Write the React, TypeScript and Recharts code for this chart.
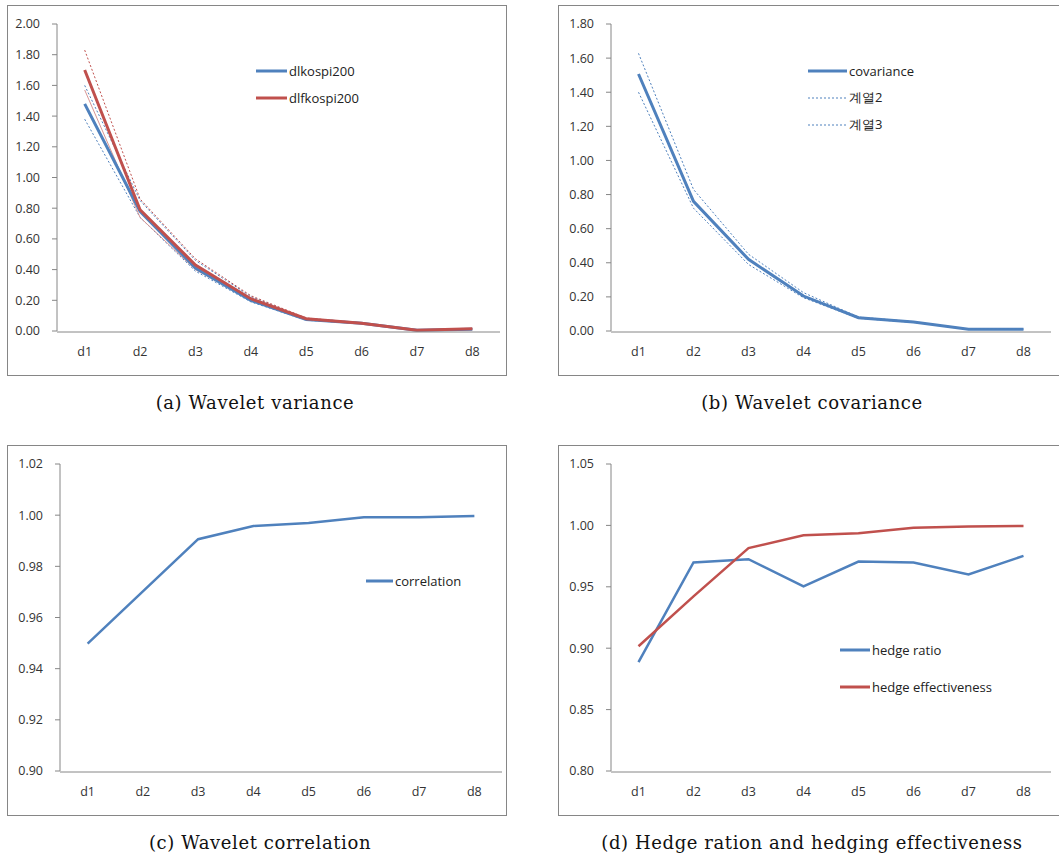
import { LineChart, Line, XAxis, YAxis, Legend } from "recharts";

const levels = ["d1", "d2", "d3", "d4", "d5", "d6", "d7", "d8"];
const boundaryTicks = [0, 1, 2, 3, 4, 5, 6, 7, 8];

// (a) wavelet variance + confidence bands
const dlkospi200 = [1.48, 0.78, 0.41, 0.2, 0.075, 0.05, 0.005, 0.012];
const dlkospi200Upper = [1.6, 0.85, 0.46, 0.225, 0.08, 0.053, 0.006, 0.013];
const dlkospi200Lower = [1.38, 0.74, 0.39, 0.19, 0.07, 0.048, 0.004, 0.011];
const dlfkospi200 = [1.7, 0.79, 0.43, 0.21, 0.08, 0.05, 0.005, 0.014];
const dlfkospi200Upper = [1.83, 0.86, 0.47, 0.23, 0.085, 0.053, 0.006, 0.015];
const dlfkospi200Lower = [1.57, 0.74, 0.4, 0.2, 0.075, 0.047, 0.004, 0.013];
const varianceTicks = [0, 0.2, 0.4, 0.6, 0.8, 1, 1.2, 1.4, 1.6, 1.8, 2];

// (b) wavelet covariance
const covariance = [1.507, 0.76, 0.42, 0.205, 0.078, 0.053, 0.01, 0.01];
const series2 = [1.628, 0.83, 0.45, 0.225, 0.082, 0.055, 0.011, 0.011];
const series3 = [1.4, 0.72, 0.39, 0.195, 0.074, 0.05, 0.009, 0.009];
const covarianceTicks = [0, 0.2, 0.4, 0.6, 0.8, 1, 1.2, 1.4, 1.6, 1.8];

// (c) wavelet correlation
const correlation = [0.9498, 0.9702, 0.9906, 0.9958, 0.9969, 0.9992, 0.9992, 0.9997];
const correlationTicks = [0.9, 0.92, 0.94, 0.96, 0.98, 1, 1.02];

// (d) hedge ratio / effectiveness
const hedgeRatio = [0.8886, 0.9698, 0.9725, 0.9503, 0.9706, 0.9698, 0.9601, 0.9752];
const hedgeEffectiveness = [0.9016, 0.9422, 0.9815, 0.992, 0.9937, 0.998, 0.9991, 0.9996];
const hedgeTicks = [0.8, 0.85, 0.9, 0.95, 1, 1.05];

const BLUE = "#4f81bd";
const RED = "#c0504d";
const AXIS = "#868686";
const FONT = "'Open Sans', sans-serif";

type Series = {
  key: string;
  name: string;
  values: number[];
  color: string;
  width: number;
  dash?: string;
  legend?: boolean;
};

type PanelProps = {
  left: number;
  top: number;
  width: number;
  height: number;
  frame: { x: number; y: number; w: number; h: number };
  plot: { left: number; right: number; top: number; bottom: number };
  domain: [number, number];
  ticks: number[];
  series: Series[];
  legendAt: { x: number; y: number };
  legendLine: number;
  legendGap: number;
};

function Panel(p: PanelProps) {
  const rows = levels.map((level, i) => {
    const row: Record<string, string | number> = { level };
    p.series.forEach((s) => (row[s.key] = s.values[i]));
    return row;
  });
  const yWidth = 40;
  const labelHeight = 1;
  const frameHeight = 30;
  const margin = {
    top: p.plot.top,
    right: p.width - p.plot.right,
    bottom: p.height - p.plot.bottom - labelHeight - frameHeight,
    left: p.plot.left - yWidth,
  };
  const pad = (p.plot.right - p.plot.left) / levels.length / 2;
  const shown = p.series.filter((s) => s.legend);

  const renderLegend = () => (
    <div style={{ fontFamily: FONT, fontSize: 13, color: "#222" }}>
      {shown.map((s) => (
        <div key={s.key} style={{ display: "flex", alignItems: "center", height: p.legendGap }}>
          <svg width={p.legendLine} height={8} style={{ display: "block" }}>
            <line
              x1={0}
              y1={4}
              x2={p.legendLine}
              y2={4}
              stroke={s.color}
              strokeWidth={s.dash ? 1 : 3}
              strokeDasharray={s.dash}
            />
          </svg>
          <span style={{ marginLeft: 2 }}>{s.name}</span>
        </div>
      ))}
    </div>
  );

  return (
    <div style={{ position: "absolute", left: p.left, top: p.top, width: p.width, height: p.height }}>
      <div
        style={{
          position: "absolute",
          left: p.frame.x,
          top: p.frame.y,
          width: p.frame.w,
          height: p.frame.h,
          border: `1px solid ${AXIS}`,
          boxSizing: "border-box",
        }}
      />
      <div style={{ position: "absolute", left: 0, top: 0 }}>
        <LineChart width={p.width} height={p.height} data={rows} margin={margin}>
          <XAxis
            dataKey="level"
            interval={0}
            padding={{ left: pad, right: pad }}
            axisLine={false}
            tickLine={false}
            tickSize={5}
            tickMargin={11}
            height={labelHeight}
            tick={{ fill: "#333", fontSize: 12.5, fontFamily: FONT }}
          />
          <XAxis
            xAxisId="frame"
            type="number"
            domain={[0, 8]}
            ticks={boundaryTicks}
            tick={false}
            tickSize={5}
            height={frameHeight}
            stroke={AXIS}
          />
          <YAxis
            domain={p.domain}
            ticks={p.ticks}
            interval={0}
            tickFormatter={(v: number) => v.toFixed(2)}
            tickSize={5}
            tickMargin={12}
            width={yWidth}
            stroke={AXIS}
            tick={{ fill: "#333", fontSize: 12.5, fontFamily: FONT }}
          />
          <Legend
            layout="vertical"
            align="center"
            verticalAlign="middle"
            content={renderLegend}
            wrapperStyle={{ left: p.legendAt.x, top: p.legendAt.y, width: "auto", bottom: "auto" }}
          />
          {p.series.map((s) => (
            <Line
              key={s.key}
              dataKey={s.key}
              name={s.name}
              stroke={s.color}
              strokeWidth={s.width}
              strokeDasharray={s.dash}
              dot={false}
              activeDot={false}
              type="linear"
              isAnimationActive={false}
              legendType="line"
            />
          ))}
        </LineChart>
      </div>
    </div>
  );
}

const captionStyle = {
  position: "absolute" as const,
  fontFamily: "'DejaVu Serif', serif",
  fontSize: 18,
  letterSpacing: 0.6,
  color: "#111",
  width: 500,
  textAlign: "center" as const,
};

export default function App() {
  return (
    <div
      style={{
        position: "absolute",
        left: 0,
        top: 0,
        width: 1059,
        height: 860,
        background: "#fff",
        overflow: "hidden",
      }}
    >
      <Panel
        left={0}
        top={0}
        width={530}
        height={380}
        frame={{ x: 7, y: 5, w: 500, h: 371 }}
        plot={{ left: 57, right: 500, top: 24, bottom: 331 }}
        domain={[0, 2]}
        ticks={varianceTicks}
        legendAt={{ x: 256, y: 57 }}
        legendLine={31}
        legendGap={27}
        series={[
          { key: "bu", name: "band1", values: dlkospi200Upper, color: BLUE, width: 1, dash: "2 2" },
          { key: "bl", name: "band2", values: dlkospi200Lower, color: BLUE, width: 1, dash: "2 2" },
          { key: "ru", name: "band3", values: dlfkospi200Upper, color: RED, width: 1, dash: "2 2" },
          { key: "rl", name: "band4", values: dlfkospi200Lower, color: "#d99694", width: 1 },
          { key: "k", name: "dlkospi200", values: dlkospi200, color: BLUE, width: 3, legend: true },
          { key: "f", name: "dlfkospi200", values: dlfkospi200, color: RED, width: 3, legend: true },
        ]}
      />
      <Panel
        left={530}
        top={0}
        width={529}
        height={380}
        frame={{ x: 28, y: 5, w: 520, h: 371 }}
        plot={{ left: 81, right: 521, top: 24, bottom: 331 }}
        domain={[0, 1.8]}
        ticks={covarianceTicks}
        legendAt={{ x: 278, y: 57 }}
        legendLine={39}
        legendGap={27}
        series={[
          { key: "c", name: "covariance", values: covariance, color: BLUE, width: 3, legend: true },
          { key: "s2", name: "계열2", values: series2, color: BLUE, width: 1, dash: "2 2", legend: true },
          { key: "s3", name: "계열3", values: series3, color: BLUE, width: 1, dash: "2 2", legend: true },
        ]}
      />
      <Panel
        left={0}
        top={440}
        width={530}
        height={380}
        frame={{ x: 7, y: 5, w: 500, h: 371 }}
        plot={{ left: 60, right: 502, top: 24, bottom: 331 }}
        domain={[0.9, 1.02]}
        ticks={correlationTicks}
        legendAt={{ x: 366, y: 127 }}
        legendLine={27}
        legendGap={27}
        series={[{ key: "r", name: "correlation", values: correlation, color: BLUE, width: 2.5, legend: true }]}
      />
      <Panel
        left={530}
        top={440}
        width={529}
        height={380}
        frame={{ x: 28, y: 5, w: 520, h: 371 }}
        plot={{ left: 81, right: 521, top: 24, bottom: 331 }}
        domain={[0.8, 1.05]}
        ticks={hedgeTicks}
        legendAt={{ x: 310, y: 191 }}
        legendLine={30}
        legendGap={37}
        series={[
          { key: "h", name: "hedge ratio", values: hedgeRatio, color: BLUE, width: 2.5, legend: true },
          { key: "e", name: "hedge effectiveness", values: hedgeEffectiveness, color: RED, width: 2.5, legend: true },
        ]}
      />
      <div style={{ ...captionStyle, left: 5, top: 392 }}>(a) Wavelet variance</div>
      <div style={{ ...captionStyle, left: 562, top: 392 }}>(b) Wavelet covariance</div>
      <div style={{ ...captionStyle, left: 10, top: 832 }}>(c) Wavelet correlation</div>
      <div style={{ ...captionStyle, left: 562, top: 832 }}>(d) Hedge ration and hedging effectiveness</div>
    </div>
  );
}
